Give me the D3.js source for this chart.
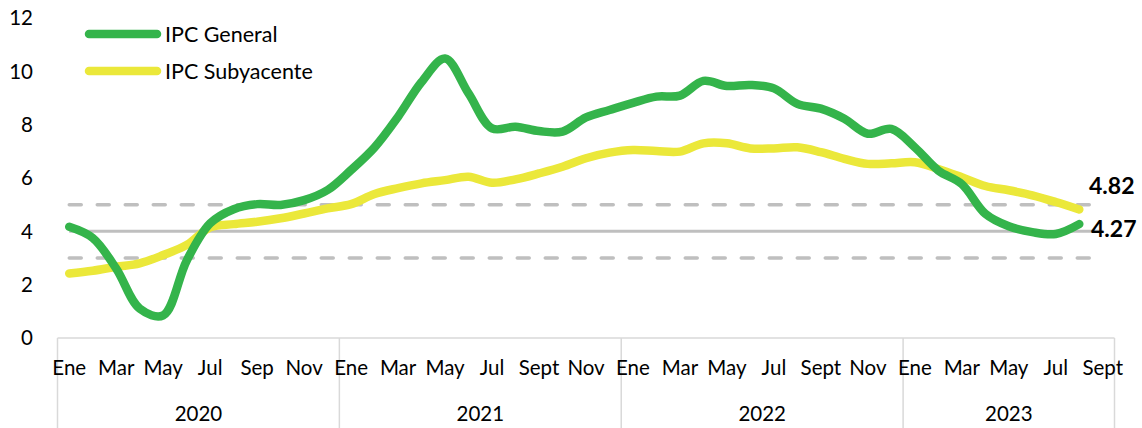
<!DOCTYPE html>
<html>
<head>
<meta charset="utf-8">
<script src="https://cdn.jsdelivr.net/npm/d3@7"></script>
<style>
  html, body { margin: 0; padding: 0; background: #fff; }
  svg { display: block; font-family: Lato, "Open Sans", sans-serif; }
</style>
</head>
<body>
<svg id="chart" width="1142" height="428"></svg>
<script>
const years = ['2020', '2021', '2022', '2023'];
const monthsPerYear = [12, 12, 12, 9];
const tickLabels = [
  ['Ene', '', 'Mar', '', 'May', '', 'Jul', '', 'Sep', '', 'Nov', ''],
  ['Ene', '', 'Mar', '', 'May', '', 'Jul', '', 'Sept', '', 'Nov', ''],
  ['Ene', '', 'Mar', '', 'May', '', 'Jul', '', 'Sept', '', 'Nov', ''],
  ['Ene', '', 'Mar', '', 'May', '', 'Jul', '', 'Sept']
];
const yTicks = [0, 2, 4, 6, 8, 10, 12];

// IPC General, Ene 2020 - Ago 2023
const general = [
  4.17, 3.75, 2.6, 1.1, 0.85, 2.9, 4.3, 4.83, 5.02, 4.99, 5.17, 5.55,
  6.3, 7.15, 8.3, 9.6, 10.48, 9.17, 7.86, 7.92, 7.76, 7.74, 8.27, 8.55,
  8.82, 9.05, 9.09, 9.64, 9.45, 9.49, 9.36, 8.78, 8.6, 8.22, 7.66, 7.84,
  7.15, 6.28, 5.77, 4.66, 4.19, 3.97, 3.9, 4.27
];
// IPC Subyacente
const core = [
  2.42, 2.52, 2.67, 2.8, 3.11, 3.49, 4.15, 4.27, 4.36, 4.49, 4.67, 4.86,
  5.02, 5.4, 5.62, 5.8, 5.92, 6.05, 5.82, 5.95, 6.17, 6.42, 6.74, 6.95,
  7.05, 7.01, 6.99, 7.3, 7.3, 7.11, 7.11, 7.15, 6.97, 6.72, 6.53, 6.55,
  6.59, 6.34, 6.03, 5.7, 5.54, 5.35, 5.1, 4.82
];
const target = 4;
const targetBand = [3, 5];

const svg = d3.select('#chart');

// one category per month
const months = [];
years.forEach((yr, yi) => {
  for (let m = 0; m < monthsPerYear[yi]; m++) {
    months.push({ key: yr + '-' + m, year: yr, label: tickLabels[yi][m] });
  }
});

const x = d3.scaleBand()
  .domain(months.map(d => d.key))
  .range([57.5, 1114.5])
  .padding(0);
const xc = i => x(months[i].key) + x.bandwidth() / 2;

const y = d3.scaleLinear().domain([0, 12]).range([338, 18]);

// y tick labels
svg.append('g')
  .selectAll('text')
  .data(yTicks)
  .enter()
  .append('text')
  .attr('x', 33)
  .attr('y', d => y(d))
  .attr('dy', '0.35em')
  .attr('text-anchor', 'end')
  .attr('font-size', 20.5)
  .attr('fill', '#000')
  .text(d => d);

// reference lines (target 4 +/- 1)
const refLine = v => d3.line()
  .x((d, i) => xc(i))
  .y(() => y(v))(months);

svg.append('path')
  .attr('d', refLine(target))
  .attr('fill', 'none')
  .attr('stroke', '#bfbfbf')
  .attr('stroke-width', 3);

svg.append('g')
  .selectAll('path')
  .data(targetBand)
  .enter()
  .append('path')
  .attr('d', d => refLine(d))
  .attr('fill', 'none')
  .attr('stroke', '#bfbfbf')
  .attr('stroke-width', 3.5)
  .attr('stroke-linecap', 'round')
  .attr('stroke-dasharray', '12,16');

// x axis: line + year separators
const axisG = svg.append('g');
axisG.append('line')
  .attr('x1', x.range()[0]).attr('x2', x.range()[1])
  .attr('y1', y(0)).attr('y2', y(0))
  .attr('stroke', '#d9d9d9').attr('stroke-width', 1.5);

const yearStarts = [];
let acc = 0;
monthsPerYear.forEach(n => { yearStarts.push(acc); acc += n; });
const sepX = yearStarts.map(i => x(months[i].key)).concat([x.range()[1]]);

axisG.selectAll('line.sep')
  .data(sepX)
  .enter()
  .append('line')
  .attr('class', 'sep')
  .attr('x1', d => d).attr('x2', d => d)
  .attr('y1', y(0)).attr('y2', 428)
  .attr('stroke', '#d9d9d9').attr('stroke-width', 1.5);

axisG.selectAll('text.month')
  .data(months.filter(d => d.label))
  .enter()
  .append('text')
  .attr('class', 'month')
  .attr('x', d => x(d.key) + x.bandwidth() / 2)
  .attr('y', 368)
  .attr('dy', '0.35em')
  .attr('text-anchor', 'middle')
  .attr('font-size', 20.5)
  .attr('fill', '#000')
  .text(d => d.label);

axisG.selectAll('text.year')
  .data(years)
  .enter()
  .append('text')
  .attr('class', 'year')
  .attr('x', (d, i) => (sepX[i] + sepX[i + 1]) / 2)
  .attr('y', 414)
  .attr('dy', '0.35em')
  .attr('text-anchor', 'middle')
  .attr('font-size', 20.5)
  .attr('fill', '#000')
  .text(d => d);

// series
const series = [
  { name: 'IPC General', values: general, color: '#34b44b' },
  { name: 'IPC Subyacente', values: core, color: '#ebe83a' }
];

const line = d3.line()
  .x((d, i) => xc(i))
  .y(d => y(d))
  .curve(d3.curveCatmullRom.alpha(0.5));

svg.append('g')
  .selectAll('path')
  .data(series.slice().reverse())
  .enter()
  .append('path')
  .attr('d', d => line(d.values))
  .attr('fill', 'none')
  .attr('stroke', d => d.color)
  .attr('stroke-width', 8.5)
  .attr('stroke-linecap', 'round')
  .attr('stroke-linejoin', 'round');

// end labels
const lastIdx = general.length - 1;
svg.append('text')
  .attr('x', 1089).attr('y', y(core[lastIdx]) - 24)
  .attr('dy', '0.35em')
  .attr('font-size', 23).attr('font-weight', 'bold').attr('fill', '#000')
  .text(core[lastIdx].toFixed(2));
svg.append('text')
  .attr('x', 1091).attr('y', y(general[lastIdx]) + 5)
  .attr('dy', '0.35em')
  .attr('font-size', 23).attr('font-weight', 'bold').attr('fill', '#000')
  .text(general[lastIdx].toFixed(2));

// legend
const legend = svg.append('g')
  .selectAll('g')
  .data(series)
  .enter()
  .append('g')
  .attr('transform', (d, i) => 'translate(0,' + (34 + i * 37) + ')');

legend.append('line')
  .attr('x1', 89).attr('x2', 157)
  .attr('stroke', d => d.color)
  .attr('stroke-width', 8.5)
  .attr('stroke-linecap', 'round');

legend.append('text')
  .attr('x', 165)
  .attr('dy', '0.35em')
  .attr('font-size', 21.5)
  .attr('fill', '#000')
  .text(d => d.name);
</script>
</body>
</html>
